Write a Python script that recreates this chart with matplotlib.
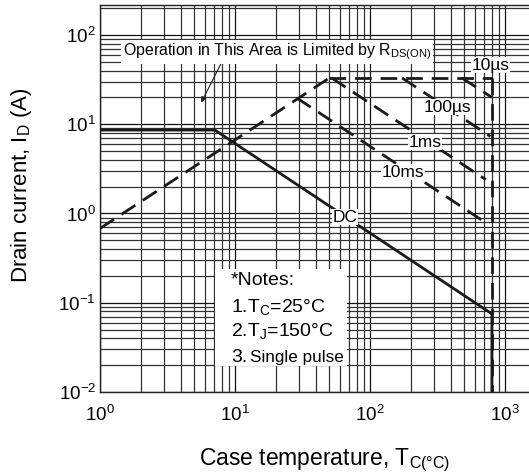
import numpy as np
import matplotlib
matplotlib.use('Agg')
import matplotlib.pyplot as plt
from matplotlib.patches import Rectangle

plt.rcParams['font.family'] = ['Liberation Sans', 'DejaVu Sans']
plt.rcParams['mathtext.fontset'] = 'custom'
plt.rcParams['mathtext.rm'] = 'Liberation Sans'
plt.rcParams['mathtext.it'] = 'Liberation Sans:italic'
plt.rcParams['mathtext.bf'] = 'Liberation Sans:bold'
plt.rcParams['axes.unicode_minus'] = False

# limits of the safe operating area (V, A)
rds_v = [1, 50]
rds_i = [0.68, 33]
top_v = [50, 800]
top_i = [33, 33]
edge_v = [800, 800]
edge_i = [33, 0.01]

# pulse lines
us10_v = [480, 800]
us10_i = [33, 20]
us100_v = [173, 780]
us100_i = [33, 7.3]
ms1_v = [52, 720]
ms1_i = [33, 2.4]
ms10_v = [28.7, 710]
ms10_i = [19.7, 0.80]

# DC line
dc_v = [1, 7.1, 800, 800]
dc_i = [8.6, 8.6, 0.075, 0.01]

labels = ['10µs', '100µs', '1ms', '10ms', 'DC']
label_v = [780, 378, 255, 176, 65]
label_i = [46, 15.6, 6.3, 2.9, 0.91]

fig = plt.figure(figsize=(5.29, 4.74), dpi=100)
ax = fig.add_axes([100/529, 82/474, 429/529, 387/474])
ax.set_xscale('log')
ax.set_yscale('log')
ax.set_xlim(1, 10**3.178)
ax.set_ylim(0.01, 10**2.336)

ax.grid(True, which='major', color='#111111', lw=0.9)
ax.grid(True, which='minor', color='#333333', lw=0.9)
ax.tick_params(which='both', length=0, labelsize=13.5)
ax.tick_params(axis='x', pad=9)
ax.tick_params(axis='y', pad=3)
ax.spines['right'].set_visible(False)
for s in ['left', 'bottom', 'top']:
    ax.spines[s].set_color('#222222')
    ax.spines[s].set_linewidth(1.0)
ax.set_axisbelow(True)

dash = (0, (6, 3.2))
kw = dict(color='#1a1a1a', lw=2, linestyle=dash, zorder=3)
ax.plot(rds_v, rds_i, **kw)
ax.plot(top_v, top_i, **kw)
ax.plot(edge_v, edge_i, **kw)
ax.plot(us10_v, us10_i, **kw)
ax.plot(us100_v, us100_i, **kw)
ax.plot(ms1_v, ms1_i, **kw)
ax.plot(ms10_v, ms10_i, **kw)
ax.plot(dc_v, dc_i, color='#1a1a1a', lw=2, zorder=4)

for t, x, y in zip(labels, label_v, label_i):
    ax.text(x, y, t, fontsize=12.5, ha='center', va='center', zorder=5,
            bbox=dict(facecolor='white', edgecolor='none', pad=0.5))

ax.text(1.48, 64.5, r'Operation in This Area is Limited by R$_{\mathrm{DS(ON)}}$',
        fontsize=11.4, ha='left', va='center', zorder=5,
        bbox=dict(facecolor='white', edgecolor='none', pad=1.5))
ax.annotate('', xy=(5.5, 16.4), xytext=(8.0, 50),
            arrowprops=dict(arrowstyle='-|>', color='#222222', lw=0.8,
                            mutation_scale=8), zorder=5)

ax.add_patch(Rectangle((0.268, 0.067), 0.308, 0.250, transform=ax.transAxes,
                       facecolor='white', edgecolor='none', zorder=5))
notes = ['*Notes:', r'1.T$_{\mathrm{C}}$=25°C', r'2.T$_{\mathrm{J}}$=150°C']
notes_y = [0.287, 0.220, 0.158]
for t, y in zip(notes, notes_y):
    ax.text(0.305, y, t, fontsize=14, transform=ax.transAxes,
            ha='left', va='center', zorder=6)
ax.text(0.305, 0.090, '3.', fontsize=14, transform=ax.transAxes,
        ha='left', va='center', zorder=6)
ax.text(0.349, 0.088, 'Single pulse', fontsize=12.3, transform=ax.transAxes,
        ha='left', va='center', zorder=6)

fig.text(325/529, (474-465)/474, r'Case temperature, T$_{\mathrm{C(°C)}}$',
         fontsize=16.5, ha='center', va='baseline')
fig.text(22/529, (474-185)/474, r'Drain current, I$_{\mathrm{D}}$ (A)',
         fontsize=16, ha='center', va='center', rotation=90)

fig.savefig('out.png', dpi=100)
